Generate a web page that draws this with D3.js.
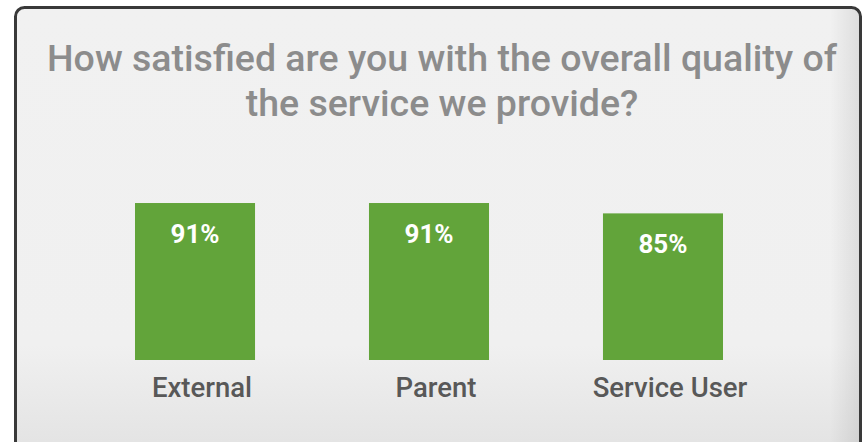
<!DOCTYPE html>
<html>
<head>
<meta charset="utf-8">
<script src="https://cdn.jsdelivr.net/npm/d3@7"></script>
<style>
  html, body { margin: 0; padding: 0; background: #fff; }
  svg { display: block; }
</style>
</head>
<body>
<script>
const categories = ['External', 'Parent', 'Service User'];
const values = [91, 91, 85];
const titleLines = [
  'How satisfied are you with the overall quality of',
  'the service we provide?'
];

const width = 866;
const height = 442;

const svg = d3.select('body')
  .append('svg')
  .attr('width', width)
  .attr('height', height);

const defs = svg.append('defs');
const grad = defs.append('linearGradient')
  .attr('id', 'bg')
  .attr('x1', 0).attr('y1', 0).attr('x2', 0).attr('y2', 1);
grad.append('stop').attr('offset', '0%').attr('stop-color', '#f1f1f1');
grad.append('stop').attr('offset', '75%').attr('stop-color', '#f0f0f0');
grad.append('stop').attr('offset', '100%').attr('stop-color', '#e2e2e2');

const side = defs.append('linearGradient')
  .attr('id', 'side')
  .attr('x1', 0).attr('y1', 0).attr('x2', 1).attr('y2', 0);
side.append('stop').attr('offset', '0%').attr('stop-color', '#000').attr('stop-opacity', 0);
side.append('stop').attr('offset', '100%').attr('stop-color', '#000').attr('stop-opacity', 0.08);

// card
svg.append('rect')
  .attr('x', 15.5)
  .attr('y', 7.5)
  .attr('width', 845)
  .attr('height', 450)
  .attr('rx', 9)
  .attr('fill', 'url(#bg)')
  .attr('stroke', '#393939')
  .attr('stroke-width', 3);

svg.append('rect')
  .attr('x', 830)
  .attr('y', 9)
  .attr('width', 29)
  .attr('height', 440)
  .attr('fill', 'url(#side)');

// title
const title = svg.append('text')
  .attr('text-anchor', 'middle')
  .attr('fill', '#8c8c8c')
  .attr('font-family', 'Roboto, sans-serif')
  .attr('font-weight', 500)
  .attr('font-size', 37.5);

title.selectAll('tspan')
  .data(titleLines)
  .enter()
  .append('tspan')
  .attr('x', 442)
  .attr('y', (d, i) => 71 + i * 45)
  .text(d => d);

// scales
const x = d3.scaleBand()
  .domain(categories)
  .range([41.4, 816.6])
  .paddingInner(0.487)
  .paddingOuter(0.4);

const y = d3.scaleLinear()
  .domain([0, 100])
  .range([360, 187.5]);

const bars = svg.append('g')
  .selectAll('g')
  .data(categories)
  .enter()
  .append('g');

bars.append('rect')
  .attr('x', d => x(d))
  .attr('y', (d, i) => y(values[i]))
  .attr('width', x.bandwidth())
  .attr('height', (d, i) => y(0) - y(values[i]))
  .attr('fill', '#62a43a');

bars.append('text')
  .attr('x', d => x(d) + x.bandwidth() / 2)
  .attr('y', (d, i) => y(values[i]) + 40)
  .attr('text-anchor', 'middle')
  .attr('fill', '#fff')
  .attr('font-family', 'Roboto, sans-serif')
  .attr('font-weight', 700)
  .attr('font-size', 26)
  .text((d, i) => `${values[i]}%`);

bars.append('text')
  .attr('x', d => x(d) + x.bandwidth() / 2 + 7)
  .attr('y', 397)
  .attr('text-anchor', 'middle')
  .attr('fill', '#585858')
  .attr('font-family', 'Roboto, sans-serif')
  .attr('font-weight', 500)
  .attr('font-size', 27.5)
  .text(d => d);
</script>
</body>
</html>
